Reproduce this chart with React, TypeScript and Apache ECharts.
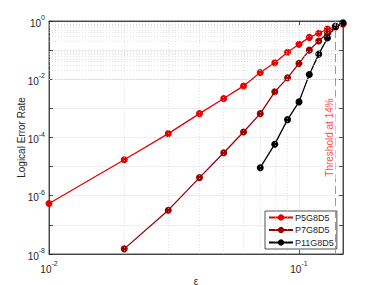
import React, { useEffect, useRef } from "react";
import * as echarts from "echarts";

const epsP5 = [0.01, 0.02, 0.03, 0.04, 0.05, 0.06, 0.07, 0.08, 0.09, 0.1, 0.11, 0.12, 0.13, 0.14, 0.15];
const valP5 = [5.4e-7, 1.73e-5, 1.36e-4, 6.6e-4, 2.19e-3, 5.9e-3, 0.0171, 0.0367, 0.084, 0.158, 0.274, 0.38, 0.53, 0.64, 0.77];
const epsP7 = [0.02, 0.03, 0.04, 0.05, 0.06, 0.07, 0.08, 0.09, 0.1, 0.11, 0.12, 0.13, 0.14, 0.15];
const valP7 = [1.5e-8, 3.2e-7, 4.2e-6, 3.0e-5, 1.55e-4, 6.6e-4, 3.7e-3, 0.0112, 0.035, 0.1, 0.205, 0.39, 0.62, 0.82];
const epsP11 = [0.07, 0.08, 0.09, 0.1, 0.11, 0.12, 0.13, 0.14, 0.15];
const valP11 = [9.2e-6, 5.9e-5, 4.1e-4, 1.67e-3, 0.0146, 0.073, 0.26, 0.66, 0.87];

const seriesNames = ["P5G8D5", "P7G8D5", "P11G8D5"];
const seriesColors = ["#e60000", "#990000", "#000000"];
const threshold = 0.14;
const thresholdLabel = "Threshold at 14%";
const minorMultipliers = [2, 3, 4, 5, 6, 7, 8, 9];
const yDecades = [-8, -7, -6, -5, -4, -3, -2, -1];
const xDecades = [-2];

const FONT = "'Liberation Sans', Arial, Helvetica, sans-serif";
const AX = "#262626";

function pow10Label(v: number, evenOnly: boolean) {
  const e = Math.log10(v);
  const r = Math.round(e);
  if (Math.abs(e - r) > 1e-6) return "";
  if (evenOnly && r % 2 !== 0) return "";
  return "{b|10}{s|" + r + "}";
}

const rich = {
  b: { fontSize: 10, color: AX, fontFamily: FONT, lineHeight: 14, verticalAlign: "bottom" },
  s: { fontSize: 7, color: AX, fontFamily: FONT, lineHeight: 8, verticalAlign: "top" },
};

export default function App() {
  const ref = useRef<HTMLDivElement>(null);
  useEffect(() => {
    if (!ref.current) return;
    const chart = echarts.init(ref.current, undefined, { renderer: "svg" });
    const minorY: any[] = [];
    yDecades.forEach((d) => minorMultipliers.forEach((m) => minorY.push({ yAxis: m * Math.pow(10, d) })));
    const minorX: any[] = [];
    xDecades.forEach((d) => minorMultipliers.forEach((m) => minorX.push({ xAxis: m * Math.pow(10, d) })));

    const mk = (xs: number[], ys: number[]) => xs.map((x, i) => [x, ys[i]]);
    const datasets = [mk(epsP5, valP5), mk(epsP7, valP7), mk(epsP11, valP11)];

    const axisBase = {
      axisLine: { show: true, lineStyle: { color: AX, width: 0.8 } },
      axisTick: { show: true, inside: true, length: 4, lineStyle: { color: AX, width: 0.8 } },
    };

    chart.setOption({
      animation: false,
      backgroundColor: "#ffffff",
      grid: {
        left: 49, top: 21, width: 294, height: 233, show: true, borderColor: AX, borderWidth: 0.8,
        backgroundColor: "#ffffff", outerBoundsMode: "none", containLabel: false,
      },
      xAxis: [
        {
          type: "log", logBase: 10, min: 0.01, max: 0.15, ...axisBase,
          name: "ε", nameLocation: "middle", nameGap: 22, nameMoveOverlap: false,
          nameTextStyle: { fontSize: 10, color: AX, fontFamily: FONT },
          axisLabel: { formatter: (v: number) => pow10Label(v, false), rich, margin: 6, showMaxLabel: false },
          splitLine: { show: true, lineStyle: { color: "#e3e3e3", width: 0.6 } },
        },
        {
          type: "log", logBase: 10, min: 0.01, max: 0.15, position: "top", ...axisBase,
          axisLabel: { show: false }, splitLine: { show: false },
        },
      ],
      yAxis: [
        {
          type: "log", logBase: 10, min: 1e-8, max: 1, interval: 1, ...axisBase,
          name: "Logical Error Rate", nameLocation: "middle", nameGap: 23, nameMoveOverlap: false,
          nameTextStyle: { fontSize: 10, color: AX, fontFamily: FONT },
          axisLabel: { formatter: (v: number) => pow10Label(v, true), rich, margin: 4 },
          splitLine: { show: true, lineStyle: { color: "#e3e3e3", width: 0.6 } },
        },
        {
          type: "log", logBase: 10, min: 1e-8, max: 1, interval: 1, position: "right", ...axisBase,
          axisLabel: { show: false }, splitLine: { show: false },
        },
      ],
      legend: {
        orient: "vertical", left: 265, top: 211, padding: [2, 3, 2, 3], itemGap: 3.5,
        itemWidth: 24, itemHeight: 8, backgroundColor: "#ffffff", borderColor: AX, borderWidth: 0.8, borderRadius: 0,
        textStyle: { fontSize: 9, color: AX, fontFamily: FONT, padding: [0, 0, 0, -3] },
        data: seriesNames,
      },
      series: [
        {
          type: "line", name: "_grid", data: [], silent: true, z: 0,
          markLine: {
            silent: true, symbol: "none", label: { show: false }, animation: false,
            lineStyle: { type: [1, 2], color: "#cfcfcf", width: 0.6 },
            data: [...minorY, ...minorX],
          },
        },
        {
          type: "line", name: "_thr", data: [], silent: true, z: 1,
          markLine: {
            silent: true, symbol: "none", animation: false,
            lineStyle: { type: [8, 4], color: "#ff7070", width: 1 },
            label: {
              show: true, position: "middle", formatter: thresholdLabel, color: "#ff4d4d",
              fontSize: 10, fontFamily: FONT, backgroundColor: "#ffffff", padding: [1, 2],
              distance: 0,
            },
            data: [[{ coord: [threshold, 1e-8] }, { coord: [threshold, 1] }]],
          },
        },
        ...seriesNames.map((n, i) => ({
          type: "line", name: n, data: datasets[i], z: 3,
          symbol: "circle", symbolSize: 7, showSymbol: true,
          itemStyle: { color: seriesColors[i] },
          lineStyle: { color: seriesColors[i], width: 1.3 },
        })),
      ],
    });
    return () => chart.dispose();
  }, []);
  return <div ref={ref} style={{ position: "fixed", left: 0, top: 0, width: 379, height: 285 }} />;
}
